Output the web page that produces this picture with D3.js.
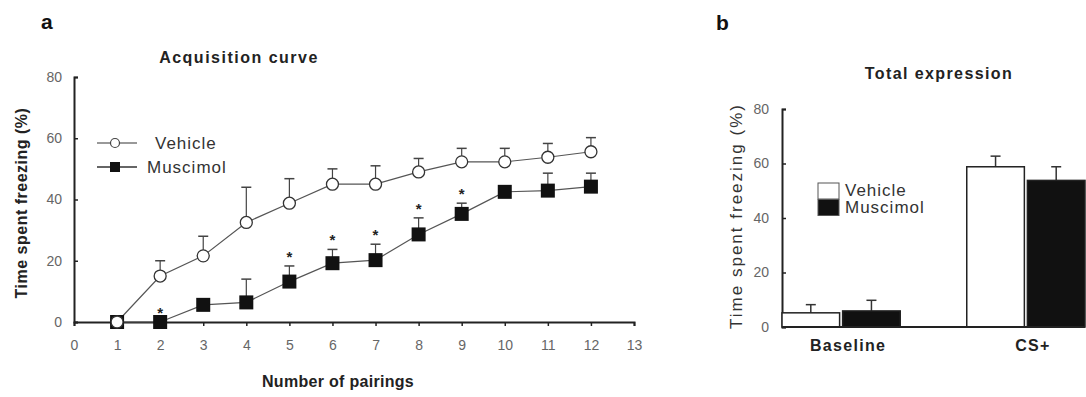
<!DOCTYPE html>
<html>
<head>
<meta charset="utf-8">
<script src="https://cdn.jsdelivr.net/npm/d3@7"></script>
<style>
  body { margin: 0; background: #fff; }
  svg { font-family: 'Liberation Sans', Arial, sans-serif; }
  .tick text { fill: #666; font-size: 14px; }
  .domain { stroke: #222; stroke-width: 2; }
  .tick line { stroke: #222; stroke-width: 1.5; }
</style>
</head>
<body>
<div id="chart"></div>
<script>
// panel a: acquisition curve
const pairings = [1, 2, 3, 4, 5, 6, 7, 8, 9, 10, 11, 12];
const vehicleMean = [0, 15, 21.6, 32.5, 38.8, 45, 45, 49, 52.3, 52.3, 53.8, 55.6];
const vehicleTop = [0, 20, 28, 44, 46.8, 50, 51, 53.4, 56.7, 56.7, 58.3, 60.2];
const muscimolMean = [0, 0, 5.6, 6.4, 13.2, 19.2, 20.2, 28.6, 35.3, 42.5, 42.9, 44.2];
const muscimolTop = [0, 0, 6.5, 14, 18.3, 23.7, 25.4, 34, 38.8, 44, 48.6, 48.6];
const starPairings = [2, 5, 6, 7, 8, 9];
const xTicksA = d3.range(0, 14);
const yTicks = [0, 20, 40, 60, 80];

// panel b: total expression
const phases = ['Baseline', 'CS+'];
const groups = ['Vehicle', 'Muscimol'];
const barMean = { Vehicle: [5.2, 58.8], Muscimol: [5.9, 53.8] };
const barTop = { Vehicle: [8.2, 62.7], Muscimol: [9.8, 58.8] };

let width = 1086, height = 397;
let svg = d3.select('#chart').append('svg')
  .attr('width', width)
  .attr('height', height);

drawPanelA();
drawPanelB();

function drawPanelA() {
  let x = d3.scaleLinear().domain([0, 13]).range([74, 634]);
  let y = d3.scaleLinear().domain([0, 80]).range([322, 77]);
  let g = svg.append('g');

  g.append('g')
    .attr('transform', 'translate(0,' + y(0) + ')')
    .call(d3.axisBottom(x).tickValues(xTicksA).tickSizeOuter(0).tickSize(4).tickPadding(14));

  g.append('g')
    .attr('transform', 'translate(' + x(0) + ',0)')
    .call(d3.axisLeft(y).tickValues(yTicks).tickSizeOuter(0).tickSize(-4).tickPadding(12));

  let line = d3.line()
    .x((d, i) => x(pairings[i]))
    .y(d => y(d));

  // error bars behind markers
  function errBars(means, tops) {
    pairings.forEach((p, i) => {
      if (tops[i] - means[i] < 0.5) return;
      g.append('line')
        .attr('x1', x(p)).attr('x2', x(p))
        .attr('y1', y(means[i])).attr('y2', y(tops[i]))
        .attr('stroke', '#444').attr('stroke-width', 1.2);
      g.append('line')
        .attr('x1', x(p) - 5).attr('x2', x(p) + 5)
        .attr('y1', y(tops[i])).attr('y2', y(tops[i]))
        .attr('stroke', '#444').attr('stroke-width', 1.5);
    });
  }
  errBars(vehicleMean, vehicleTop);
  errBars(muscimolMean, muscimolTop);

  g.append('path').datum(vehicleMean)
    .attr('d', line).attr('fill', 'none')
    .attr('stroke', '#555').attr('stroke-width', 1.2);
  g.append('path').datum(muscimolMean)
    .attr('d', line).attr('fill', 'none')
    .attr('stroke', '#555').attr('stroke-width', 1.2);

  g.selectAll('.sq').data(muscimolMean).enter().append('rect')
    .attr('x', (d, i) => x(pairings[i]) - 7)
    .attr('y', d => y(d) - 7)
    .attr('width', 14).attr('height', 14)
    .attr('fill', '#111');

  g.selectAll('.circ').data(vehicleMean).enter().append('circle')
    .attr('cx', (d, i) => x(pairings[i]))
    .attr('cy', d => y(d))
    .attr('r', 6)
    .attr('fill', '#fff').attr('stroke', '#333').attr('stroke-width', 1.3);

  // significance stars
  g.selectAll('.star').data(starPairings).enter().append('text')
    .attr('x', d => x(d))
    .attr('y', d => y(muscimolTop[d - 1]) - 4)
    .attr('text-anchor', 'middle')
    .attr('font-size', 15).attr('font-weight', 'bold')
    .attr('fill', '#222')
    .text('*');

  // legend
  let lg = g.append('g');
  lg.append('line').attr('x1', 97).attr('x2', 137).attr('y1', 143).attr('y2', 143)
    .attr('stroke', '#777').attr('stroke-width', 1.5);
  lg.append('circle').attr('cx', 115).attr('cy', 143).attr('r', 4.5)
    .attr('fill', '#fff').attr('stroke', '#444').attr('stroke-width', 1.2);
  lg.append('text').attr('x', 155).attr('y', 149).attr('font-size', 17)
    .attr('letter-spacing', 1).attr('fill', '#333').text('Vehicle');
  lg.append('line').attr('x1', 97).attr('x2', 137).attr('y1', 167).attr('y2', 167)
    .attr('stroke', '#333').attr('stroke-width', 1.5);
  lg.append('rect').attr('x', 110).attr('y', 162).attr('width', 10).attr('height', 10).attr('fill', '#111');
  lg.append('text').attr('x', 147).attr('y', 173).attr('font-size', 17)
    .attr('letter-spacing', 1).attr('fill', '#333').text('Muscimol');

  g.append('text').attr('x', 239).attr('y', 63).attr('text-anchor', 'middle')
    .attr('font-size', 16).attr('font-weight', 'bold').attr('letter-spacing', 1.5).attr('fill', '#222')
    .text('Acquisition curve');
  g.append('text').attr('x', 338).attr('y', 387).attr('text-anchor', 'middle')
    .attr('font-size', 16).attr('font-weight', 'bold').attr('letter-spacing', 0.3).attr('fill', '#222')
    .text('Number of pairings');
  g.append('text')
    .attr('transform', 'translate(27,203) rotate(-90)')
    .attr('text-anchor', 'middle')
    .attr('font-size', 16).attr('font-weight', 'bold').attr('letter-spacing', 0.5).attr('fill', '#222')
    .text('Time spent freezing (%)');
  g.append('text').attr('x', 41).attr('y', 29)
    .attr('font-size', 21).attr('font-weight', 'bold').attr('fill', '#111')
    .text('a');
}

function drawPanelB() {
  let x0 = d3.scaleBand().domain(phases).range([782, 1085]).paddingInner(0.36).paddingOuter(0);
  let x1 = d3.scaleBand().domain(groups).range([0, x0.bandwidth()]).paddingInner(0.05);
  let y = d3.scaleLinear().domain([0, 80]).range([327, 109]);
  let g = svg.append('g');

  g.append('g')
    .attr('transform', 'translate(782,0)')
    .call(d3.axisLeft(y).tickValues(yTicks).tickSizeOuter(0).tickSize(-4).tickPadding(13));

  let bars = [];
  phases.forEach((ph, i) => {
    groups.forEach(gr => {
      bars.push({ phase: ph, group: gr, v: barMean[gr][i], top: barTop[gr][i] });
    });
  });

  let bg = g.selectAll('.bar').data(bars).enter().append('g');
  bg.append('line')
    .attr('x1', d => x0(d.phase) + x1(d.group) + x1.bandwidth() / 2)
    .attr('x2', d => x0(d.phase) + x1(d.group) + x1.bandwidth() / 2)
    .attr('y1', d => y(d.v)).attr('y2', d => y(d.top))
    .attr('stroke', '#333').attr('stroke-width', 1.5);
  bg.append('line')
    .attr('x1', d => x0(d.phase) + x1(d.group) + x1.bandwidth() / 2 - 5)
    .attr('x2', d => x0(d.phase) + x1(d.group) + x1.bandwidth() / 2 + 5)
    .attr('y1', d => y(d.top)).attr('y2', d => y(d.top))
    .attr('stroke', '#333').attr('stroke-width', 1.5);
  bg.append('rect')
    .attr('x', d => x0(d.phase) + x1(d.group))
    .attr('y', d => y(d.v))
    .attr('width', x1.bandwidth())
    .attr('height', d => y(0) - y(d.v))
    .attr('fill', d => d.group === 'Vehicle' ? '#fff' : '#111')
    .attr('stroke', '#222').attr('stroke-width', 1.5);

  // x axis line on top of bars
  g.append('line').attr('x1', 782).attr('x2', 1085).attr('y1', y(0)).attr('y2', y(0))
    .attr('stroke', '#222').attr('stroke-width', 2);

  g.selectAll('.cat').data(phases).enter().append('text')
    .attr('x', d => x0(d) + x0.bandwidth() / 2 + 7)
    .attr('y', 351)
    .attr('text-anchor', 'middle')
    .attr('font-size', 16).attr('font-weight', 'bold').attr('letter-spacing', 1.3).attr('fill', '#222')
    .text(d => d);

  // legend
  let lg = g.append('g');
  groups.forEach((gr, i) => {
    lg.append('rect').attr('x', 818).attr('y', 183 + i * 16.5).attr('width', 21).attr('height', 16)
      .attr('fill', gr === 'Vehicle' ? '#fff' : '#111').attr('stroke', '#555').attr('stroke-width', 1);
    lg.append('text').attr('x', 845).attr('y', 196 + i * 17)
      .attr('font-size', 17).attr('letter-spacing', 1).attr('fill', '#333').text(gr);
  });

  g.append('text').attr('x', 939).attr('y', 79).attr('text-anchor', 'middle')
    .attr('font-size', 16).attr('font-weight', 'bold').attr('letter-spacing', 1.4).attr('fill', '#222')
    .text('Total expression');
  g.append('text')
    .attr('transform', 'translate(742,216) rotate(-90)')
    .attr('text-anchor', 'middle')
    .attr('font-size', 17).attr('letter-spacing', 2).attr('fill', '#333')
    .text('Time spent freezing (%)');
  g.append('text').attr('x', 716).attr('y', 30)
    .attr('font-size', 21).attr('font-weight', 'bold').attr('fill', '#111')
    .text('b');
}
</script>
</body>
</html>
